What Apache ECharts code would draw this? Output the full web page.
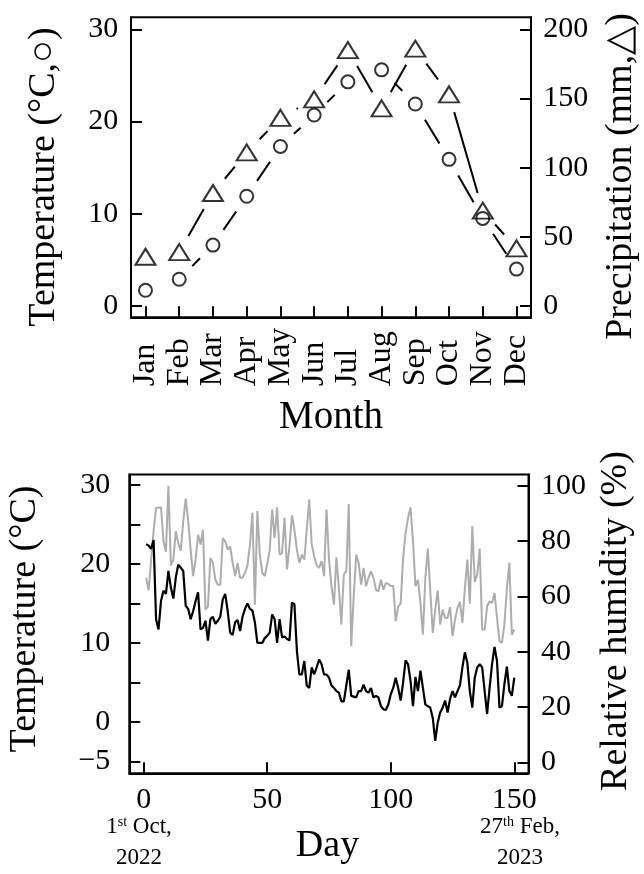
<!DOCTYPE html>
<html>
<head>
<meta charset="utf-8">
<script src="https://cdn.jsdelivr.net/npm/echarts@6/dist/echarts.min.js"></script>
<style>html,body{margin:0;padding:0;background:#fff;}#chart{width:644px;height:874px;}</style>
</head>
<body>
<div id="chart"></div>
<script>
// ---- Data ----
const months = ['Jan','Feb','Mar','Apr','May','Jun','Jul','Aug','Sep','Oct','Nov','Dec'];
const tempMonthly = [1.7, 2.9, 6.6, 11.9, 17.3, 20.7, 24.3, 25.6, 21.9, 15.9, 9.5, 4.0];
const precipMonthly = [35.6, 39.0, 81.7, 111, 136, 149.4, 185, 142.9, 186, 153, 68.9, 41.7];

const tempDaily = [
  22.5, 22.3, 21.9, 23.0, 13.0, 11.7, 15.3, 16.6, 16.2, 19.1,
  17.0, 15.6, 18.3, 19.9, 19.5, 19.1, 14.7, 14.3, 13.0, 14.0,
  15.3, 16.4, 11.7, 11.9, 12.8, 10.3, 13.0, 13.3, 12.4, 12.8,
  13.3, 15.5, 16.2, 14.0, 11.3, 11.0, 12.6, 12.9, 11.5, 13.3,
  14.3, 15.0, 14.3, 14.1, 12.6, 10.0, 10.0, 10.0, 10.6, 10.9,
  11.3, 13.6, 13.0, 10.0, 13.0, 10.7, 10.8, 10.5, 10.3, 15.1,
  14.9, 9.0, 6.0, 6.0, 7.7, 4.6, 4.3, 6.9, 6.0, 6.9,
  7.9, 7.3, 6.0, 6.0, 5.6, 4.6, 4.3, 3.9, 3.7, 2.6,
  2.6, 4.6, 6.6, 3.3, 3.2, 3.1, 3.9, 3.9, 4.7, 3.9,
  3.7, 4.3, 3.1, 3.3, 3.1, 2.0, 1.6, 1.5, 2.2, 3.5,
  4.3, 5.6, 4.3, 2.7, 5.0, 7.8, 7.3, 5.2, 2.0, 5.7,
  3.9, 6.5, 4.3, 2.2, 2.0, 1.8, 0.5, -2.4, -0.1, 1.2,
  1.8, 2.7, 1.2, 2.9, 3.9, 3.1, 3.9, 4.6, 6.9, 8.8,
  7.5, 3.9, 1.8, 5.6, 6.9, 7.3, 6.9, 3.9, 1.0, 4.3,
  7.3, 9.5, 7.7, 1.8, 2.0, 4.8, 7.0, 3.9, 3.3, 5.6
];
const humidityDaily = [
  66.7, 62.1, 73.0, 83.5, 92.0, 92.0, 92.2, 79.9, 76.1, 100.0,
  71.2, 73.3, 83.5, 79.3, 76.5, 87.0, 95.3, 87.2, 76.9, 67.3,
  73.3, 82.3, 78.7, 84.1, 55.2, 56.4, 73.9, 72.1, 66.0, 64.2,
  64.2, 81.1, 79.9, 76.9, 78.1, 72.1, 67.3, 72.1, 66.7, 66.7,
  68.5, 71.2, 78.7, 90.2, 57.0, 90.8, 75.1, 68.5, 67.3, 71.8,
  76.6, 91.4, 81.1, 92.2, 75.1, 75.7, 88.4, 69.7, 78.1, 89.3,
  84.1, 76.9, 72.1, 75.1, 73.3, 84.1, 95.0, 78.7, 74.5, 71.2,
  70.3, 72.7, 67.3, 91.4, 73.3, 63.7, 57.0, 74.1, 63.0, 49.8,
  67.9, 69.1, 93.4, 42.0, 60.0, 75.1, 72.1, 64.2, 70.3, 63.7,
  66.7, 69.1, 66.7, 62.4, 61.8, 66.0, 62.4, 64.8, 64.5, 63.7,
  63.7, 51.0, 56.4, 57.3, 73.9, 82.9, 88.4, 92.2, 79.9, 63.7,
  66.0, 57.6, 46.1, 66.7, 77.3, 61.8, 46.8, 55.2, 62.1, 49.8,
  55.2, 52.2, 52.2, 56.1, 45.6, 51.6, 55.8, 58.0, 50.4, 63.0,
  73.3, 57.3, 85.4, 65.2, 67.9, 77.3, 48.0, 48.0, 56.4, 58.2,
  57.6, 61.2, 52.2, 43.8, 43.2, 49.8, 63.0, 72.1, 46.1, 48.0
];

// tick values
const monthTicks = [0,1,2,3,4,5,6,7,8,9,10,11];
const topTempTicks = [0, 10, 20, 30];
const topPrecipTicks = [0, 50, 100, 150, 200];
const dayTicks = [0, 50, 100, 150];
const botTempTicks = [-5, 0, 5, 10, 15, 20, 25, 30];
const botTempLabels = [-5, 0, 10, 20, 30];
const humidityTicks = [0, 20, 40, 60, 80, 100];

// ---- Chart ----
const FONT = '"Liberation Serif", "Times New Roman", serif';
const chart = echarts.init(document.getElementById('chart'), null, {renderer: 'canvas'});

function axisCommon(extra) {
  return Object.assign({
    type: 'value',
    splitLine: {show: false},
    axisLine: {show: true, onZero: false, lineStyle: {color: '#000', width: 2}},
  }, extra);
}
function ticks(values, len) {
  return {show: true, inside: true, length: len, customValues: values, lineStyle: {color: '#000', width: 2}};
}
function labels(values, margin, size, fmt) {
  const o = {show: true, customValues: values, margin: margin, color: '#000', fontSize: size, fontFamily: FONT};
  if (fmt) o.formatter = fmt;
  return o;
}

const segGap = 18.5;
function renderSegment(params, api) {
  const a = api.coord([api.value(0), api.value(1)]);
  const b = api.coord([api.value(2), api.value(3)]);
  const dx = b[0] - a[0], dy = b[1] - a[1];
  const L = Math.hypot(dx, dy);
  if (L <= 2 * segGap + 1) return {type: 'group', children: []};
  const ux = dx / L, uy = dy / L;
  return {
    type: 'line',
    shape: {x1: a[0] + ux * segGap, y1: a[1] + uy * segGap, x2: b[0] - ux * segGap, y2: b[1] - uy * segGap},
    style: {stroke: '#000', lineWidth: 2}
  };
}
function segments(vals) {
  const out = [];
  for (let i = 1; i < vals.length; i++) out.push([i - 1, vals[i - 1], i, vals[i]]);
  return out;
}

const option = {
  animation: false,
  backgroundColor: '#fff',
  textStyle: {fontFamily: FONT},
  grid: [
    {left: 131, right: 113, top: 17.3, height: 300, show: true, borderColor: '#000', borderWidth: 2},
    {left: 129.3, right: 115.5, top: 474.5, height: 298.8, show: true, borderColor: '#000', borderWidth: 2}
  ],
  xAxis: [
    axisCommon({gridIndex: 0, min: -0.43, max: 11.43,
      axisTick: ticks(monthTicks, 11),
      axisLabel: Object.assign(labels(monthTicks, 69, 32, v => months[v]), {rotate: 90, align: 'left', verticalAlign: 'middle'})}),
    axisCommon({gridIndex: 1, min: -5.83, max: 155.75,
      axisTick: ticks(dayTicks, 11),
      axisLabel: labels(dayTicks, 11.5, 30)})
  ],
  yAxis: [
    axisCommon({gridIndex: 0, position: 'left', min: -1.225, max: 31.3,
      axisTick: ticks(topTempTicks, 11), axisLabel: labels(topTempTicks, 12.7, 30)}),
    axisCommon({gridIndex: 0, position: 'right', min: -8.17, max: 208.7,
      axisTick: ticks(topPrecipTicks, 11), axisLabel: labels(topPrecipTicks, 12.3, 30)}),
    axisCommon({gridIndex: 1, position: 'left', min: -6.5, max: 31.3,
      axisTick: ticks(botTempTicks, 11),
      axisLabel: labels(botTempLabels, 19, 30, v => (v < 0 ? '\u2212' + Math.abs(v) : String(v)))}),
    axisCommon({gridIndex: 1, position: 'right', min: -3.98, max: 104.05,
      axisTick: ticks(humidityTicks, 11), axisLabel: labels(humidityTicks, 12.4, 30)})
  ],
  series: [
    {type: 'custom', name: 'Precipitation line', xAxisIndex: 0, yAxisIndex: 1, renderItem: renderSegment,
      encode: {x: [0, 2], y: [1, 3]}, data: segments(precipMonthly), silent: true},
    {type: 'custom', name: 'Temperature line', xAxisIndex: 0, yAxisIndex: 0, renderItem: renderSegment,
      encode: {x: [0, 2], y: [1, 3]}, data: segments(tempMonthly), silent: true},
    {type: 'scatter', name: 'Precipitation', xAxisIndex: 0, yAxisIndex: 1, symbol: 'triangle', symbolSize: [20, 16],
      itemStyle: {color: 'rgba(0,0,0,0)', borderColor: '#000', borderWidth: 2},
      data: precipMonthly.map((v, i) => [i, v])},
    {type: 'scatter', name: 'Temperature', xAxisIndex: 0, yAxisIndex: 0, symbol: 'circle', symbolSize: 13,
      itemStyle: {color: 'rgba(0,0,0,0)', borderColor: '#000', borderWidth: 2},
      data: tempMonthly.map((v, i) => [i, v])},
    {type: 'line', name: 'Relative humidity', xAxisIndex: 1, yAxisIndex: 3, showSymbol: false, symbol: 'none',
      lineStyle: {color: '#adadad', width: 2}, data: humidityDaily.map((v, i) => [i + 1, v])},
    {type: 'line', name: 'Daily temperature', xAxisIndex: 1, yAxisIndex: 2, showSymbol: false, symbol: 'none',
      lineStyle: {color: '#000', width: 2.2}, data: tempDaily.map((v, i) => [i + 1, v])}
  ],
  graphic: [
    {type: 'text', x: 44, y: 177, rotation: Math.PI / 2,
      style: {text: 'Temperature (°C,○)', font: '38px ' + FONT, fill: '#000', align: 'center', verticalAlign: 'middle'}},
    {type: 'text', x: 621, y: 176.5, rotation: Math.PI / 2,
      style: {text: 'Precipitation (mm,△)', font: '38px ' + FONT, fill: '#000', align: 'center', verticalAlign: 'middle'}},
    {type: 'text', x: 331, y: 418,
      style: {text: 'Month', font: '39px ' + FONT, fill: '#000', align: 'center', verticalAlign: 'middle'}},
    {type: 'text', x: 25, y: 619, rotation: Math.PI / 2,
      style: {text: 'Temperature (°C)', font: '38px ' + FONT, fill: '#000', align: 'center', verticalAlign: 'middle'}},
    {type: 'text', x: 616, y: 621, rotation: Math.PI / 2,
      style: {text: 'Relative humidity (%)', font: '38px ' + FONT, fill: '#000', align: 'center', verticalAlign: 'middle'}},
    {type: 'text', x: 327.5, y: 846,
      style: {text: 'Day', font: '38px ' + FONT, fill: '#000', align: 'center', verticalAlign: 'middle'}},
    {type: 'text', x: 139, y: 842,
      style: {text: '{n|1}{s|st}{n| Oct,}\n{n|2022}', align: 'center', verticalAlign: 'middle', fill: '#000',
        rich: {n: {fontSize: 23, fontFamily: FONT, lineHeight: 31, fill: '#000'},
               s: {fontSize: 14, fontFamily: FONT, verticalAlign: 'top', padding: [4, 0, 0, 0], fill: '#000'}}}},
    {type: 'text', x: 520, y: 842,
      style: {text: '{n|27}{s|th}{n| Feb,}\n{n|2023}', align: 'center', verticalAlign: 'middle', fill: '#000',
        rich: {n: {fontSize: 23, fontFamily: FONT, lineHeight: 31, fill: '#000'},
               s: {fontSize: 14, fontFamily: FONT, verticalAlign: 'top', padding: [4, 0, 0, 0], fill: '#000'}}}}
  ]
};
chart.setOption(option);
</script>
</body>
</html>
